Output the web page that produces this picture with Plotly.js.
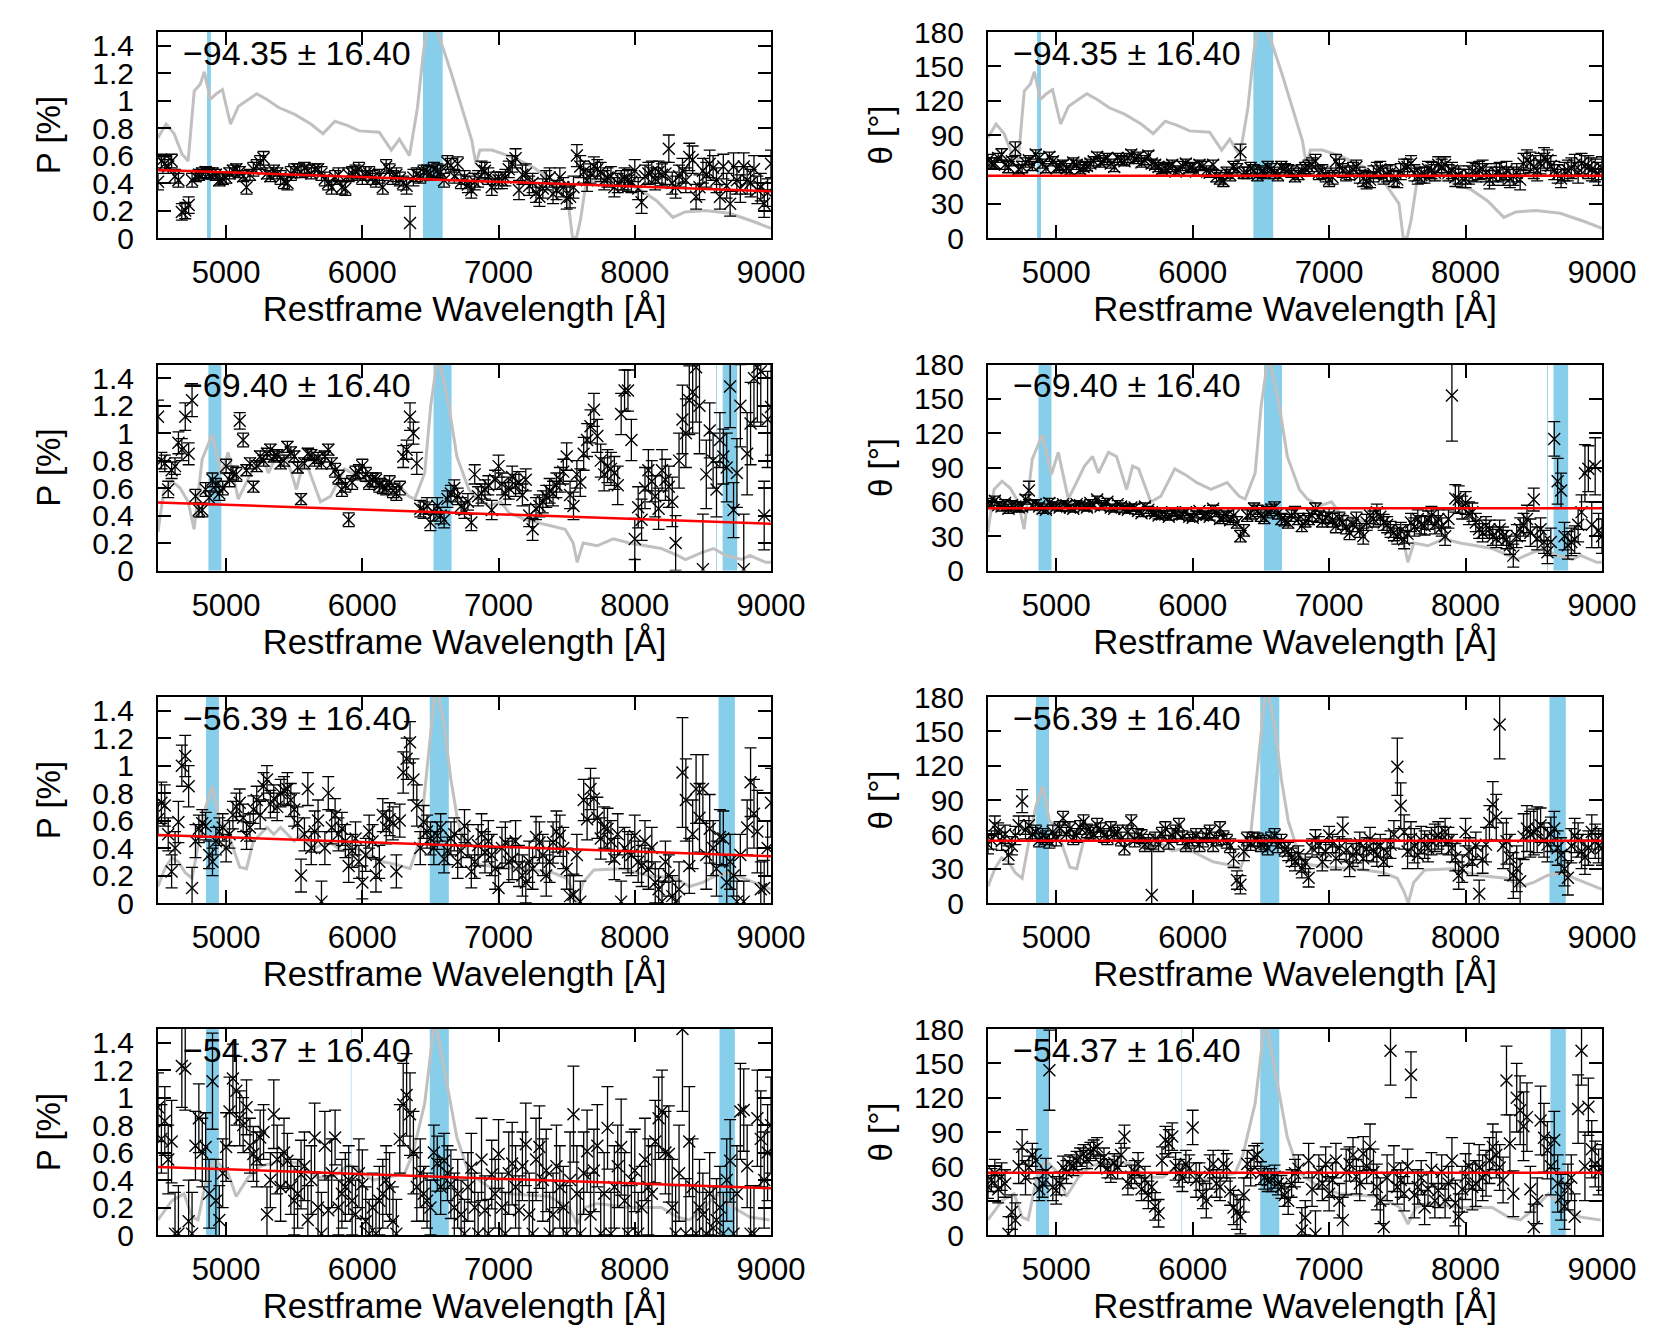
<!DOCTYPE html>
<html>
<head>
<meta charset="utf-8">
<script src="https://cdn.plot.ly/plotly-3.0.1.min.js"></script>
<style>
  html, body { margin: 0; padding: 0; background: #fff; }
  #chart { width: 1661px; height: 1329px; }
</style>
</head>
<body>
<div id="chart"></div>
<script>
// binned wavelengths (restframe, Angstrom); two interleaved grids shared by all panels
const wl = [4500,4550,4600,4650,4700,4750,4800,4850,4900,4950,5000,5050,5100,5150,5200,5250,5300,5350,5400,5450,
  5500,5550,5600,5650,5700,5750,5800,5850,5900,5950,6000,6050,6100,6150,6200,6250,6300,6350,6400,6450,
  6500,6550,6600,6650,6700,6750,6800,6850,6900,6950,7000,7050,7100,7150,7200,7250,7300,7350,7400,7450,
  7500,7550,7600,7650,7700,7750,7800,7850,7900,7950,8000,8050,8100,8150,8200,8250,8300,8350,8400,8450,
  8500,8550,8600,8650,8700,8750,8800,8850,8900,8950,9000];
const wlB = [4525,4575,4625,4675,4725,4775,4825,4875,4925,4975,5025,5075,5125,5175,5225,5275,5325,5375,5425,5475,
  5525,5575,5625,5675,5725,5775,5825,5875,5925,5975,6025,6075,6125,6175,6225,6275,6325,6375,6425,6475,
  6525,6575,6625,6675,6725,6775,6825,6875,6925,6975,7025,7075,7125,7175,7225,7275,7325,7375,7425,7475,
  7525,7575,7625,7675,7725,7775,7825,7875,7925,7975,8025,8075,8125,8175,8225,8275,8325,8375,8425,8475,
  8525,8575,8625,8675,8725,8775,8825,8875,8925,8975];

// polarisation P [%] and errors, one array per epoch
const p1 = [0.41,0.54,0.56,0.42,0.20,0.42,0.46,0.48,0.47,0.42,
  0.44,0.49,0.48,0.37,0.50,0.55,0.47,0.49,0.44,0.40,
  0.49,0.48,0.49,0.50,0.47,0.40,0.44,0.37,0.46,0.48,
  0.44,0.47,0.42,0.37,0.49,0.46,0.40,0.11,0.46,0.48,
  0.47,0.49,0.42,0.53,0.54,0.44,0.35,0.43,0.49,0.37,
  0.42,0.44,0.54,0.35,0.47,0.40,0.30,0.42,0.32,0.44,
  0.29,0.37,0.52,0.42,0.52,0.48,0.44,0.37,0.42,0.42,
  0.49,0.26,0.47,0.43,0.46,0.65,0.37,0.49,0.59,0.30,
  0.49,0.54,0.42,0.52,0.25,0.42,0.52,0.40,0.35,0.25,0.54];
const pErr1 = [0.06,0.05,0.05,0.05,0.06,0.05,0.04,0.04,0.04,0.04,
  0.04,0.04,0.04,0.05,0.05,0.05,0.04,0.04,0.05,0.05,
  0.05,0.04,0.04,0.04,0.05,0.05,0.05,0.05,0.05,0.05,
  0.05,0.05,0.05,0.05,0.05,0.05,0.05,0.12,0.05,0.05,
  0.05,0.05,0.05,0.05,0.05,0.05,0.06,0.06,0.06,0.06,
  0.06,0.06,0.06,0.07,0.07,0.07,0.07,0.07,0.07,0.07,
  0.08,0.08,0.08,0.08,0.07,0.07,0.07,0.07,0.07,0.08,
  0.08,0.08,0.08,0.08,0.08,0.10,0.08,0.09,0.10,0.09,
  0.09,0.10,0.09,0.09,0.09,0.10,0.10,0.10,0.10,0.10,0.10];
const pB1 = [0.56,0.52,0.45,0.19,0.24,0.45,0.47,0.47,0.46,0.43,
  0.47,0.50,0.45,0.46,0.52,0.58,0.45,0.47,0.41,0.47,
  0.50,0.51,0.47,0.50,0.43,0.37,0.46,0.36,0.47,0.50,
  0.47,0.44,0.45,0.52,0.44,0.43,0.38,0.44,0.45,0.48,
  0.50,0.48,0.55,0.45,0.41,0.39,0.41,0.50,0.45,0.42,
  0.42,0.50,0.58,0.46,0.38,0.33,0.36,0.44,0.35,0.37,
  0.30,0.60,0.48,0.47,0.50,0.42,0.45,0.40,0.43,0.41,
  0.36,0.45,0.48,0.48,0.47,0.40,0.45,0.42,0.57,0.37,
  0.46,0.51,0.30,0.38,0.52,0.36,0.42,0.50,0.37,0.33];
const pErrB1 = [0.05,0.05,0.05,0.06,0.06,0.04,0.04,0.04,0.04,0.04,
  0.04,0.04,0.04,0.04,0.05,0.05,0.04,0.04,0.05,0.05,
  0.04,0.04,0.04,0.04,0.05,0.05,0.05,0.05,0.05,0.05,
  0.05,0.05,0.05,0.05,0.05,0.05,0.06,0.06,0.05,0.05,
  0.05,0.05,0.05,0.05,0.05,0.06,0.06,0.06,0.06,0.06,
  0.06,0.06,0.07,0.07,0.07,0.07,0.07,0.07,0.07,0.07,
  0.08,0.08,0.08,0.07,0.07,0.07,0.07,0.07,0.08,0.08,
  0.08,0.08,0.08,0.08,0.08,0.08,0.08,0.09,0.10,0.09,
  0.09,0.09,0.09,0.09,0.10,0.10,0.10,0.10,0.10,0.10];

const p2 = [1.12,0.78,0.73,0.93,1.12,1.24,0.44,0.59,0.66,0.56,
  0.76,0.71,1.09,0.73,0.61,0.83,0.85,0.83,0.78,0.90,
  0.83,0.52,0.85,0.80,0.78,0.88,0.73,0.59,0.37,0.71,
  0.76,0.64,0.66,0.61,0.64,0.56,0.83,1.12,0.78,0.44,
  0.35,0.47,0.37,0.56,0.54,0.44,0.35,0.54,0.59,0.44,
  0.76,0.56,0.68,0.64,0.66,0.30,0.47,0.54,0.56,0.66,
  0.83,0.47,0.64,0.95,1.17,0.80,0.76,0.71,1.14,1.31,
  0.23,0.37,0.73,0.54,0.73,0.61,0.20,1.10,1.24,1.48,
  0.01,1.02,0.59,0.83,1.34,0.71,0.01,1.07,1.48,0.40,1.19];
const pErr2 = [0.12,0.06,0.06,0.08,0.10,0.12,0.05,0.05,0.05,0.05,
  0.05,0.05,0.06,0.04,0.04,0.04,0.04,0.04,0.04,0.04,
  0.04,0.04,0.04,0.04,0.04,0.04,0.05,0.05,0.05,0.05,
  0.05,0.05,0.05,0.05,0.05,0.05,0.08,0.10,0.08,0.06,
  0.06,0.06,0.06,0.06,0.06,0.06,0.06,0.07,0.07,0.07,
  0.08,0.08,0.08,0.08,0.08,0.08,0.08,0.08,0.09,0.09,
  0.10,0.10,0.10,0.12,0.12,0.12,0.12,0.12,0.15,0.15,
  0.15,0.15,0.15,0.15,0.15,0.15,0.20,0.25,0.25,0.40,
  0.40,0.20,0.20,0.20,0.30,0.25,0.40,0.30,0.40,0.25,0.35];
const pB2 = [0.80,0.59,0.76,0.88,0.85,0.54,0.44,0.53,0.62,0.60,
  0.66,0.70,0.95,0.78,0.76,0.80,0.88,0.84,0.80,0.86,
  0.75,0.78,0.84,0.82,0.83,0.78,0.68,0.62,0.64,0.72,
  0.70,0.66,0.62,0.60,0.58,0.60,0.88,1.00,0.45,0.47,
  0.42,0.40,0.52,0.60,0.47,0.50,0.70,0.56,0.62,0.66,
  0.63,0.60,0.62,0.55,0.40,0.45,0.50,0.58,0.62,0.72,
  0.55,0.70,0.85,1.05,0.98,0.70,0.74,0.62,1.31,0.95,
  0.46,0.60,0.65,0.45,0.66,0.50,0.80,1.00,1.30,1.20,
  0.70,0.80,0.95,0.75,0.44,1.20,0.85,1.40,1.45,1.10];
const pErrB2 = [0.06,0.06,0.06,0.08,0.08,0.05,0.05,0.05,0.05,0.05,
  0.05,0.05,0.05,0.04,0.04,0.04,0.04,0.04,0.04,0.04,
  0.04,0.04,0.04,0.04,0.04,0.04,0.05,0.05,0.05,0.05,
  0.05,0.05,0.05,0.05,0.05,0.05,0.07,0.08,0.06,0.06,
  0.06,0.06,0.06,0.06,0.06,0.06,0.07,0.07,0.07,0.07,
  0.08,0.08,0.08,0.08,0.08,0.08,0.08,0.09,0.09,0.09,
  0.10,0.10,0.12,0.12,0.12,0.12,0.12,0.14,0.15,0.15,
  0.15,0.15,0.15,0.15,0.15,0.18,0.20,0.25,0.30,0.35,
  0.25,0.20,0.20,0.25,0.20,0.30,0.30,0.35,0.40,0.35];

const p3 = [0.61,0.71,0.23,0.59,1.07,0.11,0.54,0.56,0.30,0.52,
  0.40,0.64,0.73,0.49,0.68,0.64,0.90,0.76,0.80,0.83,
  0.68,0.20,0.83,0.52,0.01,0.80,0.64,0.54,0.27,0.47,
  0.15,0.52,0.20,0.64,0.61,0.23,0.95,1.17,0.71,0.59,
  0.47,0.49,0.32,0.47,0.30,0.56,0.23,0.42,0.37,0.35,
  0.11,0.44,0.32,0.27,0.15,0.25,0.44,0.20,0.44,0.49,
  0.25,0.06,0.01,0.61,0.76,0.47,0.54,0.32,0.01,0.37,
  0.49,0.27,0.25,0.15,0.01,0.20,0.01,0.95,0.27,0.83,
  0.83,0.54,0.25,0.47,0.30,0.01,0.01,0.88,0.52,0.11,0.73];
const pErr3 = [0.12,0.15,0.12,0.15,0.15,0.15,0.10,0.10,0.10,0.10,
  0.10,0.10,0.10,0.10,0.10,0.10,0.10,0.10,0.10,0.12,
  0.12,0.12,0.12,0.15,0.15,0.12,0.12,0.12,0.12,0.12,
  0.12,0.12,0.12,0.12,0.12,0.12,0.15,0.15,0.15,0.12,
  0.12,0.10,0.10,0.12,0.12,0.12,0.12,0.15,0.15,0.15,
  0.15,0.15,0.15,0.15,0.15,0.15,0.15,0.15,0.15,0.15,
  0.15,0.15,0.15,0.15,0.15,0.15,0.15,0.15,0.15,0.15,
  0.15,0.15,0.15,0.15,0.15,0.15,0.15,0.40,0.20,0.25,
  0.25,0.25,0.20,0.20,0.20,0.15,0.15,0.25,0.30,0.20,0.25];
const pB3 = [0.73,0.50,0.40,1.00,0.85,0.45,0.58,0.35,0.45,0.55,
  0.50,0.70,0.62,0.55,0.75,0.85,0.72,0.70,0.82,0.75,
  0.58,0.50,0.40,0.60,0.40,0.55,0.50,0.45,0.38,0.30,
  0.35,0.45,0.30,0.55,0.58,0.60,1.05,0.90,0.40,0.52,
  0.40,0.55,0.38,0.50,0.38,0.45,0.30,0.50,0.45,0.25,
  0.40,0.30,0.45,0.20,0.30,0.48,0.35,0.30,0.52,0.40,
  0.05,0.35,0.75,0.83,0.62,0.55,0.45,0.50,0.40,0.35,
  0.30,0.45,0.40,0.10,0.30,0.05,0.10,0.75,0.50,0.62,
  0.35,0.40,0.48,0.15,0.20,0.35,0.55,0.65,0.10,0.40];
const pErrB3 = [0.15,0.12,0.12,0.15,0.15,0.12,0.10,0.10,0.10,0.10,
  0.10,0.10,0.10,0.10,0.10,0.10,0.10,0.10,0.10,0.12,
  0.12,0.12,0.12,0.15,0.12,0.12,0.12,0.12,0.12,0.12,
  0.12,0.12,0.12,0.12,0.12,0.12,0.15,0.15,0.12,0.12,
  0.12,0.10,0.10,0.12,0.12,0.12,0.12,0.15,0.15,0.15,
  0.15,0.15,0.15,0.15,0.15,0.15,0.15,0.15,0.15,0.15,
  0.15,0.15,0.15,0.15,0.15,0.15,0.15,0.15,0.15,0.15,
  0.15,0.15,0.15,0.15,0.15,0.15,0.20,0.30,0.25,0.25,
  0.25,0.20,0.20,0.20,0.15,0.15,0.20,0.25,0.20,0.20];

const p4 = [0.93,0.83,0.68,0.01,1.21,0.01,0.85,0.64,1.12,0.11,
  0.64,1.14,0.85,0.93,0.59,0.71,0.15,0.88,0.35,0.54,
  0.25,0.44,0.11,0.71,0.01,0.18,0.71,0.30,0.40,0.15,
  0.37,0.01,0.01,0.30,0.35,0.01,0.95,0.88,0.35,0.30,
  0.20,0.52,0.54,0.37,0.30,0.01,0.49,0.01,0.18,0.44,
  0.59,0.01,0.52,0.18,0.66,0.01,0.64,0.47,0.15,0.35,
  0.01,0.88,0.01,0.61,0.47,0.01,0.78,0.35,0.64,0.01,
  0.47,0.20,0.35,0.68,0.90,0.59,0.01,1.50,0.68,0.01,
  0.15,0.30,0.11,0.01,0.54,0.30,0.91,0.01,0.85,0.40,0.80];
const pErr4 = [0.25,0.25,0.30,0.35,0.30,0.30,0.25,0.25,0.35,0.25,
  0.25,0.25,0.20,0.20,0.20,0.20,0.20,0.25,0.25,0.20,
  0.25,0.25,0.25,0.25,0.30,0.25,0.20,0.25,0.25,0.25,
  0.25,0.25,0.25,0.25,0.25,0.25,0.30,0.30,0.25,0.20,
  0.20,0.20,0.20,0.25,0.25,0.25,0.25,0.30,0.25,0.25,
  0.25,0.30,0.30,0.25,0.30,0.30,0.30,0.30,0.30,0.30,
  0.35,0.35,0.30,0.30,0.30,0.30,0.30,0.30,0.35,0.35,
  0.30,0.30,0.35,0.30,0.30,0.35,0.35,0.60,0.40,0.35,
  0.30,0.30,0.30,0.30,0.30,0.35,0.30,0.35,0.35,0.35,0.35];
const pB4 = [0.70,0.55,0.01,1.23,0.10,0.65,0.60,0.30,0.25,0.45,
  0.90,1.05,0.80,0.65,0.55,0.75,0.40,0.55,0.60,0.35,
  0.30,0.50,0.40,0.20,0.65,0.45,0.20,0.35,0.25,0.45,
  0.10,0.20,0.25,0.40,0.10,0.70,1.02,0.60,0.45,0.25,
  0.60,0.35,0.45,0.20,0.15,0.35,0.20,0.55,0.01,0.30,
  0.20,0.45,0.35,0.50,0.15,0.55,0.40,0.01,0.50,0.20,
  0.40,0.30,0.45,0.15,0.65,0.30,0.01,0.50,0.25,0.40,
  0.01,0.55,0.30,0.85,0.60,0.20,0.45,0.01,0.35,0.20,
  0.01,0.05,0.20,0.40,0.01,0.90,0.50,0.01,0.70,0.60];
const pErrB4 = [0.25,0.25,0.30,0.30,0.30,0.25,0.25,0.25,0.30,0.25,
  0.25,0.25,0.20,0.20,0.20,0.20,0.20,0.25,0.25,0.20,
  0.25,0.25,0.25,0.25,0.25,0.25,0.20,0.25,0.25,0.25,
  0.25,0.25,0.25,0.25,0.25,0.25,0.30,0.30,0.25,0.20,
  0.20,0.20,0.20,0.25,0.25,0.25,0.25,0.30,0.25,0.25,
  0.25,0.30,0.30,0.25,0.30,0.30,0.30,0.30,0.30,0.30,
  0.35,0.35,0.30,0.30,0.30,0.30,0.30,0.30,0.35,0.35,
  0.30,0.30,0.35,0.30,0.30,0.35,0.35,0.40,0.35,0.35,
  0.30,0.30,0.30,0.30,0.30,0.35,0.30,0.35,0.35,0.35];

// polarisation angle theta [deg] and errors
const th1 = [68,65,73,62,78,62,68,73,65,71,
  61,64,59,64,62,65,71,68,65,70,
  67,73,71,68,65,62,61,64,59,65,
  62,64,59,64,52,57,62,75,57,59,
  58,62,57,62,59,54,59,62,67,58,
  51,67,59,57,62,52,51,59,54,57,
  51,62,65,54,55,59,64,64,59,55,
  52,58,59,57,54,58,59,54,51,68,
  62,65,68,59,52,59,64,65,62,59,61];
const thErr1 = [5,5,5,5,6,5,4,4,4,4,
  4,4,4,4,4,4,4,4,4,4,
  4,4,4,4,4,4,4,4,4,4,
  4,4,4,4,5,5,5,7,5,5,
  5,5,5,5,5,5,5,6,6,6,
  6,6,6,6,6,7,7,7,7,7,
  7,7,7,7,7,7,7,7,7,8,
  8,8,8,8,8,8,8,8,9,9,
  10,9,9,8,8,9,9,9,10,10,10];
const thB1 = [66,70,64,67,60,66,63,70,61,67,
  63,61,66,60,63,67,66,70,62,68,
  70,69,66,72,64,60,62,58,63,61,
  58,63,57,54,50,55,60,57,61,55,
  57,60,55,60,58,56,61,64,57,55,
  53,63,56,60,55,50,56,60,56,52,
  58,62,57,55,60,57,62,57,53,52,
  55,57,60,51,57,54,52,57,65,66,
  59,70,63,56,58,61,57,63,60,56];
const thErrB1 = [4,4,4,4,4,4,4,4,4,4,
  4,4,4,4,4,4,4,4,4,4,
  4,4,4,4,4,4,4,4,4,4,
  4,4,4,5,5,5,5,5,5,5,
  5,5,5,5,5,5,5,6,6,6,
  6,6,6,6,7,7,7,7,7,7,
  7,7,7,7,7,7,7,7,8,8,
  8,8,8,8,8,8,8,8,9,9,
  9,9,9,8,8,9,9,9,10,10];

const th2 = [59,61,56,54,56,56,70,58,54,59,
  56,58,55,58,56,59,62,58,55,58,
  54,55,52,56,51,48,49,51,48,51,
  46,52,49,54,45,48,48,30,48,54,
  48,51,55,45,42,51,39,45,54,43,
  48,39,42,33,45,30,48,51,42,36,
  30,27,42,45,39,48,45,30,153,62,
  59,51,36,39,30,36,27,13,36,45,
  62,36,16,115,70,22,27,51,89,91,30];
const thErr2 = [4,4,4,4,4,4,8,4,4,4,
  3,3,3,3,3,3,3,3,3,3,
  3,3,3,3,3,3,3,3,3,3,
  3,3,3,3,4,4,6,5,5,5,
  5,5,5,5,5,5,5,5,5,5,
  6,6,6,6,6,7,7,7,7,7,
  7,8,8,8,8,8,8,8,40,12,
  10,8,8,8,8,8,8,10,10,12,
  10,10,10,15,15,12,12,15,20,25,15];
const thB2 = [58,57,59,57,55,62,57,56,53,57,
  55,57,54,57,55,57,56,60,54,56,
  53,55,50,53,50,49,47,50,49,47,
  49,48,47,50,47,44,42,35,50,52,
  46,53,50,44,48,45,43,48,47,46,
  44,45,38,40,35,42,45,47,40,33,
  35,32,38,40,44,40,38,45,63,55,
  50,42,33,36,28,30,22,30,40,33,
  28,25,25,78,30,25,40,85,40,35];
const thErrB2 = [3,3,3,4,4,4,4,3,3,3,
  3,3,3,3,3,3,3,3,3,3,
  3,3,3,3,3,3,3,3,3,3,
  3,3,3,3,4,4,5,5,5,5,
  5,5,5,5,5,5,5,5,5,5,
  6,6,6,6,6,7,7,7,7,7,
  7,8,8,8,8,8,8,8,12,10,
  10,8,8,8,8,8,8,10,10,12,
  10,10,12,20,12,12,15,25,20,15];

const th3 = [51,68,54,42,59,89,68,62,59,54,
  56,74,65,59,71,62,68,59,65,62,
  48,71,59,51,7,51,65,59,68,51,
  56,51,59,51,65,54,39,16,56,56,
  51,48,59,54,45,36,30,22,56,36,
  59,39,65,33,45,39,56,42,36,51,
  119,62,56,42,51,54,59,62,48,24,
  62,36,8,51,86,156,54,24,19,65,
  62,68,51,65,42,22,59,45,48,54,48];
const thErr3 = [8,8,8,8,8,10,8,6,6,6,
  6,6,6,6,6,6,6,6,6,6,
  6,6,6,6,40,6,6,6,6,6,
  6,6,6,6,6,6,8,8,6,6,
  6,6,6,6,8,8,8,8,8,8,
  8,10,10,10,10,10,10,10,12,12,
  25,15,15,12,12,12,12,12,12,12,
  12,12,12,15,20,30,20,20,20,20,
  20,15,15,15,15,15,15,15,15,15,15];
const thB3 = [55,62,60,50,68,64,60,55,57,62,
  65,60,57,66,63,60,64,57,60,56,
  62,55,58,54,56,60,53,62,57,54,
  59,55,62,56,57,50,20,45,52,55,
  53,56,50,47,40,42,35,48,50,45,
  52,48,46,42,52,47,46,50,44,60,
  85,45,50,55,48,57,55,54,40,30,
  45,50,38,70,75,50,40,30,58,60,
  64,55,60,48,30,50,55,40,62,50];
const thErrB3 = [8,8,8,8,8,8,6,6,6,6,
  6,6,6,6,6,6,6,6,6,6,
  6,6,6,6,6,6,6,6,6,6,
  6,6,6,6,6,6,8,8,6,6,
  6,6,6,6,8,8,8,8,8,8,
  8,10,10,10,10,10,10,10,12,12,
  20,15,15,12,12,12,12,12,12,12,
  12,12,12,15,20,20,20,20,20,20,
  20,15,15,15,15,15,15,15,15,15];

const th4 = [42,54,51,1,13,77,59,65,45,144,
  39,59,62,65,71,73,77,68,54,59,
  86,51,62,48,42,19,83,86,54,62,
  94,51,30,62,42,59,24,16,62,68,
  54,48,51,42,30,54,4,65,1,45,
  36,65,13,62,51,71,77,42,7,161,
  42,36,140,42,24,57,39,30,65,16,
  51,42,59,54,77,59,135,36,109,103,
  7,100,74,83,33,42,16,161,112,62,59];
const thErr4 = [10,12,12,15,15,15,10,10,12,35,
  12,10,8,8,8,8,8,8,8,10,
  10,10,10,12,12,12,12,12,12,12,
  15,12,15,12,12,12,15,15,12,10,
  10,10,10,10,12,12,20,15,20,15,
  15,15,20,15,15,15,20,20,20,30,
  15,15,20,15,15,15,15,15,20,20,
  20,20,20,20,20,20,30,20,30,30,
  20,30,25,25,20,20,20,30,25,20,20];
const thB4 = [48,40,45,20,60,50,70,40,55,42,
  45,55,60,68,66,75,62,58,63,70,
  45,55,40,35,25,65,80,60,50,58,
  48,35,55,45,62,38,20,35,55,70,
  50,48,45,35,45,58,15,40,55,62,
  48,30,55,70,45,60,55,30,50,58,
  48,60,35,50,40,30,55,45,28,40,
  60,45,50,65,70,48,80,120,95,40,
  30,85,60,45,25,50,110,60,75,55];
const thErrB4 = [10,12,12,15,15,15,10,10,12,12,
  10,10,8,8,8,8,8,8,8,10,
  10,10,10,12,12,12,12,12,12,12,
  15,12,15,12,12,12,15,15,12,10,
  10,10,10,10,12,12,15,15,15,15,
  15,15,20,15,15,15,20,20,20,20,
  15,15,20,15,15,15,15,15,20,20,
  20,20,20,20,20,20,25,30,30,20,
  20,30,25,25,20,20,30,30,25,20];

// scaled flux spectrum (grey), same scale as P
const specWl1 = [4500,4559,4618,4677,4721,4766,4810,4840,4884,4928,4973,5032,5091,5150,5224,5297,5386,5504,5622,5711,
  5799,5888,5977,6124,6213,6272,6346,6405,6449,6494,6567,6656,6745,6804,6833,6863,6951,7099,7247,7394,
  7512,7542,7571,7601,7645,7749,7867,8044,8162,8280,8369,8517,8694,8871,9000];
const spec1 = [0.73,0.83,0.76,0.61,0.56,1.07,1.12,1.21,1.01,1.05,1.08,0.83,0.96,1.00,1.05,1.01,0.95,0.90,0.83,0.76,
  0.85,0.82,0.78,0.77,0.64,0.72,0.60,0.95,1.36,1.62,1.46,1.19,0.90,0.71,0.54,0.64,0.64,0.59,0.52,0.42,
  0.25,0.01,0.00,0.13,0.42,0.42,0.42,0.35,0.27,0.15,0.19,0.20,0.18,0.12,0.07];

const specWl2 = [4500,4544,4603,4662,4721,4765,4824,4898,4965,5015,5089,5207,5266,5310,5383,5442,5516,5560,5604,5693,
  5766,5869,5958,6031,6134,6252,6340,6385,6458,6502,6541,6560,6635,6694,6782,6841,6929,7018,7077,7194,
  7283,7371,7489,7548,7577,7621,7724,7842,7960,8078,8195,8313,8372,8490,8578,8667,8785,8843,8961,9000];
const spec2 = [0.28,0.59,0.65,0.60,0.50,0.30,0.81,0.99,0.70,0.86,0.52,0.76,0.83,0.71,0.86,0.83,0.59,0.76,0.74,0.50,
  0.54,0.74,0.69,0.64,0.59,0.64,0.54,0.52,0.71,1.20,1.47,1.55,1.20,0.83,0.59,0.52,0.47,0.50,0.42,0.37,
  0.35,0.33,0.30,0.20,0.06,0.20,0.18,0.23,0.20,0.18,0.16,0.11,0.08,0.13,0.16,0.11,0.08,0.11,0.06,0.06];

const specWl3 = [4500,4550,4600,4650,4700,4750,4800,4850,4900,4950,5000,5050,5100,5150,5200,5300,5350,5400,5500,5550,
  5650,5750,5850,5950,6050,6150,6250,6350,6420,6480,6540,6600,6650,6700,6780,6850,7000,7200,7400,7500,
  7550,7580,7620,7700,7900,8100,8300,8400,8500,8600,8700,8800,8900,9000];
const spec3 = [0.12,0.25,0.33,0.30,0.22,0.18,0.45,0.70,0.85,0.60,0.55,0.40,0.26,0.25,0.45,0.55,0.50,0.55,0.45,0.50,
  0.40,0.45,0.38,0.40,0.35,0.30,0.28,0.25,0.45,1.00,1.60,1.30,0.90,0.60,0.35,0.28,0.26,0.25,0.22,0.18,
  0.08,0.00,0.15,0.24,0.25,0.20,0.18,0.12,0.15,0.20,0.22,0.18,0.14,0.10];

const specWl4 = [4500,4603,4691,4750,4794,4868,4927,5015,5074,5163,5251,5398,5545,5663,5781,5899,5958,6075,6193,6311,
  6370,6458,6532,6605,6694,6782,6929,7077,7371,7518,7577,7636,7724,7960,8195,8313,8402,8490,8608,8726,
  8843,8990];
const spec4 = [0.11,0.25,0.30,0.13,0.11,0.47,0.54,0.45,0.28,0.42,0.50,0.54,0.52,0.42,0.42,0.51,0.49,0.40,0.42,0.45,
  0.59,0.96,1.58,1.20,0.71,0.45,0.35,0.30,0.28,0.20,0.08,0.20,0.23,0.20,0.20,0.13,0.11,0.18,0.30,0.20,
  0.13,0.11];

// red reference lines
const fitWl = [4500, 9000];
const fitP = [0.496, 0.34];
const fitTheta = [54.5, 54.5];

// masked line regions (blue bands), [start, end] in Angstrom
const bands1 = [[4860, 4888], [6445, 6590]];
const bands2 = [[4870, 4965], [6523, 6655], [8597, 8603], [8645, 8752]];
const bands3 = [[4852, 4947], [6495, 6635], [8615, 8735]];
const bands4 = [[4852, 4947], [5916, 5920], [6495, 6635], [8622, 8735]];

const labels = ['\u221294.35 \u00b1 16.40', '\u221269.40 \u00b1 16.40', '\u221256.39 \u00b1 16.40', '\u221254.37 \u00b1 16.40'];

const pVals = [p1, p2, p3, p4], pErrs = [pErr1, pErr2, pErr3, pErr4];
const pValsB = [pB1, pB2, pB3, pB4], pErrsB = [pErrB1, pErrB2, pErrB3, pErrB4];
const thVals = [th1, th2, th3, th4], thErrs = [thErr1, thErr2, thErr3, thErr4];
const thValsB = [thB1, thB2, thB3, thB4], thErrsB = [thErrB1, thErrB2, thErrB3, thErrB4];
const specWls = [specWl1, specWl2, specWl3, specWl4], specs = [spec1, spec2, spec3, spec4];
const bands = [bands1, bands2, bands3, bands4];

const W = 1661, H = 1329;
const FONT = 'Liberation Sans, Arial, Helvetica, sans-serif';
const colPx = [[158, 771], [988, 1602]];
const rowTop = [32, 364.5, 697, 1029];
const plotH = 206;

function ref(letter, k) { return k === 1 ? letter : letter + k; }
function key(letter, k) { return k === 1 ? letter + 'axis' : letter + 'axis' + k; }

function spectrumTrace(r, k) {
  return {
    x: specWls[r], y: specs[r], xaxis: ref('x', k), yaxis: ref('y', k),
    type: 'scatter', mode: 'lines', line: {color: '#c0c0c0', width: 3},
    hoverinfo: 'skip'
  };
}

function pointTrace(x, y, err, xa, ya) {
  return {
    x: x, y: y, xaxis: xa, yaxis: ya, type: 'scatter', mode: 'markers',
    marker: {symbol: 'x-thin', size: 12, color: '#000', line: {color: '#000', width: 1.4}},
    error_y: {type: 'data', array: err, visible: true, color: '#000', thickness: 1.3, width: 6}
  };
}

function fitTrace(y, xa, ya) {
  return {
    x: fitWl, y: y, xaxis: xa, yaxis: ya, type: 'scatter', mode: 'lines',
    line: {color: '#ff0000', width: 2.5}, hoverinfo: 'skip'
  };
}

const axisBase = {
  ticks: 'inside', ticklen: 13, tickwidth: 1.5, tickcolor: '#000',
  showline: true, linewidth: 2, linecolor: '#000', mirror: 'ticks',
  showgrid: false, zeroline: false,
  tickfont: {family: FONT, size: 30, color: '#000'}
};

const layout = {
  width: W, height: H,
  margin: {l: 0, r: 0, t: 0, b: 0},
  paper_bgcolor: '#fff', plot_bgcolor: '#fff',
  showlegend: false,
  font: {family: FONT, color: '#000'},
  shapes: [], annotations: []
};

const data = [];

for (let r = 0; r < 4; r++) {
  const yDom = [1 - (rowTop[r] + plotH) / H, 1 - rowTop[r] / H];
  const kl = 2 * r + 1, kr = 2 * r + 2, ko = 9 + r;

  for (const [c, k] of [[0, kl], [1, kr]]) {
    layout[key('x', k)] = Object.assign({}, axisBase, {
      domain: [colPx[c][0] / W, colPx[c][1] / W], anchor: ref('y', k),
      range: [4500, 9000], dtick: 1000, tick0: 0, ticklabelstandoff: 6,
      tickfont: {family: FONT, size: 31, color: '#000'},
      title: {text: 'Restframe Wavelength [\u00c5]', font: {family: FONT, size: 34.7, color: '#000'}, standoff: 6}
    });
  }
  // P panel
  layout[key('y', kl)] = Object.assign({}, axisBase, {
    domain: yDom, anchor: ref('x', kl), range: [0, 1.5], dtick: 0.2, tick0: 0,
    ticklabelstandoff: 16,
    title: {text: 'P [%]', font: {family: FONT, size: 33, color: '#000'}, standoff: 22}
  });
  // theta panel: base axis (no decorations) carries the spectrum, overlay axis carries the angles
  layout[key('y', kr)] = {
    domain: yDom, anchor: ref('x', kr), range: [0, 1.5],
    showticklabels: false, ticks: '', showline: false, showgrid: false, zeroline: false
  };
  layout[key('y', ko)] = Object.assign({}, axisBase, {
    overlaying: ref('y', kr), anchor: ref('x', kr), side: 'left',
    range: [0, 180], dtick: 30, tick0: 0, ticklabelstandoff: 16,
    title: {text: '\u03b8 [\u00b0]', font: {family: FONT, size: 33, color: '#000'}, standoff: 11}
  });

  data.push(spectrumTrace(r, kl));
  data.push(pointTrace(wl, pVals[r], pErrs[r], ref('x', kl), ref('y', kl)));
  data.push(pointTrace(wlB, pValsB[r], pErrsB[r], ref('x', kl), ref('y', kl)));
  data.push(fitTrace(fitP, ref('x', kl), ref('y', kl)));

  data.push(spectrumTrace(r, kr));
  data.push(pointTrace(wl, thVals[r], thErrs[r], ref('x', kr), ref('y', ko)));
  data.push(pointTrace(wlB, thValsB[r], thErrsB[r], ref('x', kr), ref('y', ko)));
  data.push(fitTrace(fitTheta, ref('x', kr), ref('y', ko)));

  for (const k of [kl, kr]) {
    bands[r].forEach(function (b) {
      layout.shapes.push({
        type: 'rect', layer: 'below', xref: ref('x', k), yref: ref('y', k) + ' domain',
        x0: b[0], x1: b[1], y0: 0, y1: 1, fillcolor: '#87ceeb', line: {width: 0}
      });
    });
    layout.annotations.push({
      xref: ref('x', k) + ' domain', yref: ref('y', k) + ' domain',
      x: 0.038, y: 0.9, xanchor: 'left', yanchor: 'middle', showarrow: false,
      text: labels[r], font: {family: FONT, size: 34, color: '#000'}
    });
  }
}

Plotly.newPlot('chart', data, layout, {displayModeBar: false, responsive: false});
</script>
</body>
</html>
